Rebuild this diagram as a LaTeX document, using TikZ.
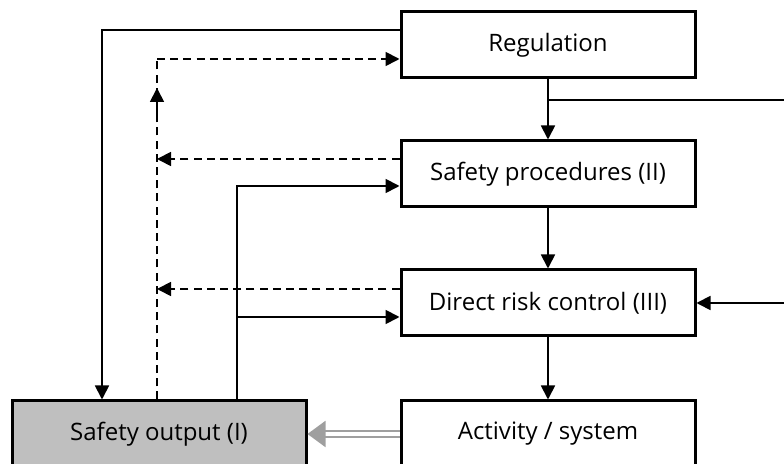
\documentclass[tikz,border=0pt]{standalone}
\usepackage{fontspec}
\setmainfont{Open Sans}
\usepackage{tikz}
\usetikzlibrary{positioning,calc,arrows.meta}

\tikzset{
  box/.style={draw, line width=1.5pt, minimum width=147pt, minimum height=33pt, inner sep=0pt, font=\fontsize{12}{14}\selectfont},
  link/.style={line width=0.9pt, -{Triangle[length=7pt,width=7pt]}},
  feedback/.style={link, dash pattern=on 4pt off 2.6pt},
}

\begin{document}
\begin{tikzpicture}[x=0.5pt,y=-0.5pt]
    \useasboundingbox (0,0) rectangle (784,464);

    % Control levels
    \node[box] (reg)  at (548,45)  {Regulation};
    \node[box] (proc) at (548,174) {Safety procedures (II)};
    \node[box] (drc)  at (548,303) {Direct risk control (III)};
    \node[box] (act)  at (548,434) {Activity / system};

    % Output
    \node[box, fill=gray!50] (out) at (159,434) {Safety output (I)};

    % Downward chain
    \draw[link] (reg) -- (proc);
    \draw[link] (proc) -- (drc);
    \draw[link] (drc) -- (act);

    % Branch round the right side
    \coordinate (branch) at (548,100);
    \draw[line width=0.9pt] (branch) -- (792,100);
    \draw[link] (792,303) -- (drc.east);

    % Regulation to output
    \draw[link] (reg.west |- 0,30) -| (out.north -| 102,0);

    % Feedback (dashed)
    \coordinate (fb) at (157,59);
    \draw[line width=0.9pt, dash pattern=on 4pt off 2.6pt] (out.north -| fb) -- (fb);
    \draw[-{Triangle[length=7pt,width=7pt]}, line width=0.9pt] (157,120) -- (157,88);
    \draw[feedback] (fb) -- (reg.west |- fb);
    \draw[feedback] (proc.west |- 0,159) -- (157,159);
    \draw[feedback] (drc.west |- 0,289) -- (157,289);

    % Output to procedures and direct control
    \coordinate (up) at (237,186);
    \draw[link] (out.north -| up) -- (up) -- (proc.west |- up);
    \draw[link] (237,317) -- (drc.west |- 0,317);

    % Activity to output
    \draw[draw=gray!75, double=white, double distance=1.6pt, line width=1pt,
          -{Triangle[length=9pt,width=13pt]}] (act.west) -- (out.east);
\end{tikzpicture}
\end{document}
